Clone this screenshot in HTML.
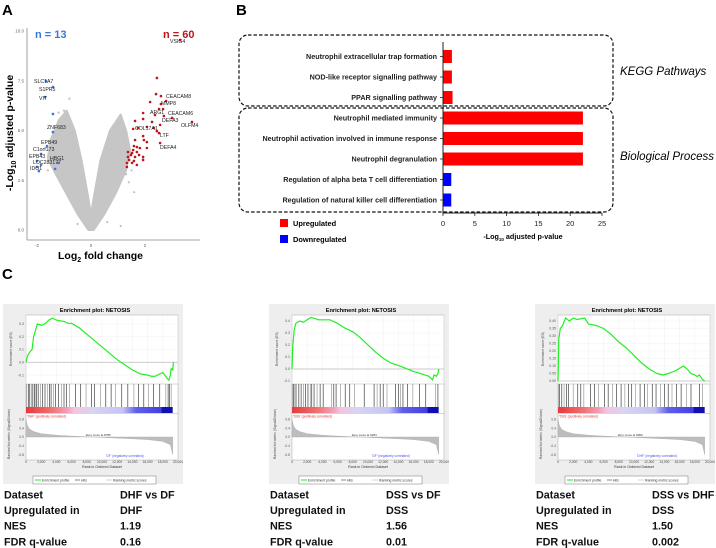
<!DOCTYPE html>
<html><head><meta charset="utf-8"><style>
body{margin:0;background:#fff;}
svg{display:block;font-family:"Liberation Sans",Arial,sans-serif;}
</style></head><body>
<svg id="fig" width="716" height="548" viewBox="0 0 716 548" xmlns="http://www.w3.org/2000/svg">
<text x="2" y="15" font-size="15" font-weight="bold">A</text>
<text x="236" y="15" font-size="15" font-weight="bold">B</text>
<text x="2" y="279" font-size="15" font-weight="bold">C</text>
<g id="volcano"></g>
<g id="barchart"></g>
<g id="gsea"></g>
</svg>
<script>
// ---------- Panel A data ----------
const upFC=[3.30,2.44,2.41,2.59,2.78,2.59,2.67,2.52,2.37,2.70,3.00,2.19,1.93,1.93,1.63,2.26,2.56,3.74,1.56,1.74,2.07,2.33,2.44,2.52,1.93,1.63,1.96,2.07,2.56,1.59,1.70,1.81,2.07,1.56,1.37,1.52,1.70,1.37,1.48,1.63,1.78,1.41,1.59,1.93,1.93,1.33,1.52,1.33,1.70];
const upP=[9.55,7.64,6.83,6.73,6.48,6.33,6.08,6.08,5.78,5.73,5.63,6.43,5.88,5.58,5.48,5.43,5.28,5.43,5.08,5.13,5.18,5.13,4.97,4.87,4.72,4.52,4.52,4.42,4.37,4.22,4.17,4.12,4.12,4.02,3.92,3.87,3.92,3.67,3.77,3.67,3.77,3.52,3.47,3.67,3.52,3.37,3.37,3.17,3.27];
const downFC=[-1.67,-1.41,-1.70,-1.41,-1.41,-1.63,-1.85,-2.0,-1.22,-1.33,-1.85,-2.0,-1.93];
const downP=[7.49,7.19,6.68,5.83,4.92,4.22,3.82,3.47,3.37,3.07,3.27,3.17,2.96];
const cloudFC=[-0.1,-0.5,-0.9,-1.3,-1.6,-1.5,-1.2,-0.9,-0.6,-0.35,-0.15,0,0.15,0.35,0.7,1.1,1.3,1.45,1.3,0.9,0.5,0.1];
const cloudP=[0,0.8,1.8,2.8,3.6,4.5,5.5,6.0,5.0,3.5,2.0,0.8,2.0,3.5,5.0,5.8,5.0,4.0,3.0,1.8,0.8,0];
const grayFC=[-0.8,-1.0,-0.9,-1.1,-0.7,1.0,1.2,1.3,1.4,1.6,-1.2,-0.5,0.6,1.1,-1.6,1.5];
const grayP=[6.6,6.0,5.8,5.0,4.9,5.3,4.5,2.8,2.4,1.9,5.9,0.3,0.4,0.2,3.0,3.0];
const xTicksA=[-2,0,2];
const yTicksA=[0,2.5,5,7.5,10];
// ---------- Panel B data ----------
const terms=["Neutrophil extracellular trap formation","NOD-like receptor signalling pathway","PPAR signalling pathway","Neutrophil mediated immunity","Neutrophil activation involved in immune response","Neutrophil degranulation","Regulation of alpha beta T cell differentiation","Regulation of natural killer cell differentiation"];
const termValues=[1.4,1.4,1.5,22,22,22,1.3,1.3];
const termDirection=["up","up","up","up","up","up","down","down"];
const xTicksB=[0,5,10,15,20,25];
// ---------- Panel C data ----------
const esRank1=[0,0.2,0.5,0.8,1,1.5,2,2.5,3,3.5,4,5,5.5,6,7,8,9,10,11,12,13,14,15,16,16.5,17,18,18.5,18.8,19,19.1,19.3,19.4];
const esVal1=[0,0.05,0.08,0.1,0.2,0.3,0.29,0.3,0.33,0.345,0.33,0.32,0.305,0.305,0.27,0.22,0.17,0.12,0.07,0.02,-0.02,-0.06,-0.09,-0.1,-0.11,-0.11,-0.08,-0.12,-0.14,-0.1,-0.05,-0.06,0.0];
const esRank2=[0,0.1,0.3,0.5,1,1.5,2,2.5,3,3.5,5,6,7,8,9,10,11,12,13,14,15,16,17,18,18.5,18.7,19,19.2,19.3];
const esVal2=[0,0.2,0.33,0.38,0.4,0.39,0.41,0.43,0.42,0.41,0.41,0.38,0.34,0.31,0.26,0.2,0.14,0.09,0.05,0.03,0.005,-0.02,-0.04,-0.06,-0.09,-0.05,-0.06,-0.04,0.0];
const esRank3=[0,0.1,0.3,0.6,1,1.5,2,2.5,3.5,4,5,6,7,8,9,10,11,12,13,13.8,14.5,15.5,16.5,17,17.5,18,18.3,18.6,19,19.3];
const esVal3=[0,0.28,0.35,0.37,0.42,0.4,0.42,0.41,0.42,0.38,0.37,0.35,0.31,0.26,0.22,0.17,0.12,0.08,0.05,0.04,0.05,0.07,0.1,0.08,0.05,0.04,0.03,0.04,0.01,0.0];
const hits1=[0.1,0.3,0.5,0.7,0.9,1.1,1.2,1.4,1.6,1.9,2.2,2.5,2.8,3.1,3.3,3.6,3.9,4.3,4.7,5.0,5.3,5.7,6.5,7.2,7.9,8.6,9.0,9.8,10.5,11.2,11.8,12.6,13.4,14.2,14.8,15.5,16.1,16.8,17.6,18.4,18.7,18.9,19.1];
const hits2=[0.05,0.2,0.4,0.6,0.9,1.2,1.5,1.8,2.1,2.4,2.6,2.9,3.3,3.7,4.1,5.2,5.5,5.8,6.4,7.0,7.6,8.2,9.5,10.8,11.2,11.6,12.0,12.5,13.6,14.0,14.3,14.6,15.2,15.9,16.8,17.6,18.9,19.2];
const hits3=[0.05,0.2,0.5,0.8,1.1,1.4,2.0,2.6,3.0,3.4,4.3,4.8,5.3,6.1,6.6,7.2,7.7,8.3,8.8,9.3,9.7,10.2,10.8,11.4,11.8,12.4,12.9,13.5,14.0,14.5,15.0,15.6,16.2,16.9,17.5,18.6,19.0];
const metricRanks=[0,0.2,0.5,1,2,4,6,8,9,10,12,14,16,18,19,19.3];
const metricVals=[0.8,0.5,0.35,0.25,0.15,0.08,0.04,0.01,0,-0.02,-0.05,-0.08,-0.12,-0.2,-0.35,-0.8];
const rankTicks=[0,2000,4000,6000,8000,10000,12000,14000,16000,18000,20000];
const esTicks1=[-0.1,0,0.1,0.2,0.3];
const esTicks2=[-0.1,0,0.1,0.2,0.3,0.4];
const esTicks3=[0,0.05,0.1,0.15,0.2,0.25,0.3,0.35,0.4];
const datasets=["DHF vs DF","DSS vs DF","DSS vs DHF"];
const upIn=["DHF","DSS","DSS"];
const nes=["1.19","1.56","1.50"];
const fdr=["0.16","0.01","0.002"];
const posLabels=["'DHF' (positively correlated)","'DSS' (positively correlated)","'DSS' (positively correlated)"];
const negLabels=["'DF' (negatively correlated)","'DF' (negatively correlated)","'DHF' (negatively correlated)"];
const zeroCross=["Zero cross at 8785","Zero cross at 9284","Zero cross at 9960"];

const NS="http://www.w3.org/2000/svg";
function mk(parent,tag,attrs,text){const e=document.createElementNS(NS,tag);for(const k in attrs)e.setAttribute(k,attrs[k]);if(text!==undefined)e.textContent=text;parent.appendChild(e);return e;}

// ---------- Panel A ----------
(function(){
const g=document.getElementById('volcano');
const X=fc=>91+27*fc, Y=p=>230-19.9*p;
let e;
e=mk(g,'line',{x1:27,y1:28,x2:27,y2:240,stroke:'#888','stroke-width':0.8});


e=mk(g,'line',{x1:27,y1:240,x2:200,y2:240,stroke:'#888','stroke-width':0.8});


xTicksA.forEach(t=>{const tt=mk(g,'text',{x:X(t),y:247,'font-size':4.5,fill:'#666','text-anchor':'middle'},String(t));

});
yTicksA.forEach(t=>{const tt=mk(g,'text',{x:24,y:Y(t)+1.5,'font-size':4.5,fill:'#666','text-anchor':'end'},t.toFixed(1));

});
const pts=cloudFC.map((f,i)=>X(f)+','+Y(cloudP[i])).join(' ');
e=mk(g,'polygon',{points:pts,fill:'#c6c6c6',stroke:'#c6c6c6','stroke-width':2,'stroke-linejoin':'round'});


grayFC.forEach((f,i)=>{const c=mk(g,'circle',{cx:X(f),cy:Y(grayP[i]),r:1.1,fill:'#c0c0c0'});

});
upFC.forEach((f,i)=>{const c=mk(g,'circle',{cx:X(f),cy:Y(upP[i]),r:1.3,fill:'#c0141c'});

});
downFC.forEach((f,i)=>{const c=mk(g,'circle',{cx:X(f),cy:Y(downP[i]),r:1.3,fill:'#3a78d8'});

});
const labels=[["VSIG4",170,43],["CEACAM8",166,98],["MMP8",161,105],["ARG1",150,114],["CEACAM6",168,115],["DEFA3",162,122],["OLFM4",181,127],["COL17A1",135,130],["LTF",160,137],["DEFA4",160,149],
["SLC1A7",34,83],["S1PR5",39,91],["VIT",39,100],["ZNF683",47,129],["EPB49",41,144],["C1orf173",33,151],["EPB43",29,158],["HBG1",50,160],["LOC283177",33,164],["IDO1",30,170]];
labels.forEach(l=>{const t=mk(g,'text',{x:l[1],y:l[2],'font-size':5.2,fill:'#222'},l[0]);

});
e=mk(g,'text',{x:35,y:38,'font-size':11,'font-weight':'bold',fill:'#3a78d8'},'n = 13');


e=mk(g,'text',{x:163,y:38,'font-size':11,'font-weight':'bold',fill:'#c0141c'},'n = 60');


e=mk(g,'text',{x:58,y:259,'font-size':10.5,'font-weight':'bold'});
e.innerHTML='Log<tspan font-size="7" dy="3">2</tspan><tspan dy="-3"> fold change</tspan>';


e=mk(g,'text',{x:0,y:0,'font-size':10.5,'font-weight':'bold','text-anchor':'middle',transform:'translate(13,133) rotate(-90)'});
e.innerHTML='-Log<tspan font-size="7" dy="3">10</tspan><tspan dy="-3"> adjusted p-value</tspan>';


})();

// ---------- Panel B ----------
(function(){
const g=document.getElementById('barchart');
const X=v=>443+v*6.36;
const rowY=i=>56.5+i*20.5;
let e;
e=mk(g,'rect',{x:239,y:35,width:374,height:71,rx:9,fill:'none',stroke:'#111','stroke-width':1.2,'stroke-dasharray':'3.5,2'});


e=mk(g,'rect',{x:239,y:108,width:374,height:104,rx:9,fill:'none',stroke:'#111','stroke-width':1.2,'stroke-dasharray':'3.5,2'});


termValues.forEach((v,i)=>{const b=mk(g,'rect',{x:X(0),y:rowY(i)-6.5,width:X(v)-X(0),height:13,fill:termDirection[i]==='up'?'#fe0000':'#0000fe'});


const t=mk(g,'text',{x:437,y:rowY(i)+2.5,'font-size':7.2,'font-weight':'bold','text-anchor':'end',fill:'#222'},terms[i]);


const tk=mk(g,'line',{x1:440,x2:443,y1:rowY(i),y2:rowY(i),stroke:'#222','stroke-width':0.8});

});
e=mk(g,'line',{x1:443,y1:42,x2:443,y2:214,stroke:'#222','stroke-width':1});


e=mk(g,'line',{x1:443,y1:213,x2:X(25),y2:213,stroke:'#222','stroke-width':1});


xTicksB.forEach(t=>{const l=mk(g,'line',{x1:X(t),x2:X(t),y1:213,y2:216,stroke:'#222','stroke-width':0.8});


const tt=mk(g,'text',{x:X(t),y:226,'font-size':7.5,'text-anchor':'middle',fill:'#222'},String(t));

});
e=mk(g,'text',{x:523,y:239,'font-size':7.2,'font-weight':'bold','text-anchor':'middle'});
e.innerHTML='-Log<tspan font-size="4.5" dy="2">10</tspan><tspan dy="-2"> adjusted p-value</tspan>';


e=mk(g,'rect',{x:280,y:219,width:8,height:8,fill:'#fe0000'});


e=mk(g,'text',{x:293,y:226,'font-size':7.4,'font-weight':'bold'},'Upregulated');


e=mk(g,'rect',{x:280,y:235,width:8,height:8,fill:'#0000fe'});


e=mk(g,'text',{x:293,y:242,'font-size':7.4,'font-weight':'bold'},'Downregulated');


e=mk(g,'text',{x:620,y:75,'font-size':11.5,'font-style':'italic'},'KEGG Pathways');


e=mk(g,'text',{x:620,y:160,'font-size':11.5,'font-style':'italic'},'Biological Process');


})();

// ---------- Panel C ----------
(function(){
const G=document.getElementById('gsea');
const esR=[esRank1,esRank2,esRank3], esV=[esVal1,esVal2,esVal3], hits=[hits1,hits2,hits3], esT=[esTicks1,esTicks2,esTicks3];
const ranges=[[-0.17,0.37],[-0.125,0.45],[-0.02,0.44]];
const x0s=[3,269,535];
for(let p=0;p<3;p++){
const x0=x0s[p], y0=304;
const g=mk(G,'g',{});


const L=x0+23, R=x0+175;
const X=r=>L+(r/20000)*(R-L);
const [lo,hi]=ranges[p];
const Y=v=>y0+11+(hi-v)/(hi-lo)*69;
let e;
e=mk(g,'rect',{x:x0,y:y0,width:180,height:180,fill:'#eeeeee'});


e=mk(g,'text',{x:x0+92,y:y0+8,'font-size':5.6,'font-weight':'bold','text-anchor':'middle'},'Enrichment plot: NETOSIS');


e=mk(g,'rect',{x:L,y:y0+11,width:R-L,height:145,fill:'#fff',stroke:'#999','stroke-width':0.4});


rankTicks.forEach(t=>{mk(g,'line',{x1:X(t),x2:X(t),y1:y0+11,y2:y0+80,stroke:'#eee','stroke-width':0.4});
const tl=mk(g,'text',{x:X(t),y:y0+159,'font-size':3.3,fill:'#444','text-anchor':'middle'},t.toLocaleString('en-US'));

});
esT[p].forEach(t=>{mk(g,'line',{x1:L,x2:R,y1:Y(t),y2:Y(t),stroke:'#eee','stroke-width':0.4});
const tl=mk(g,'text',{x:L-2,y:Y(t)+1.2,'font-size':3.5,fill:'#555','text-anchor':'end'},p===2?t.toFixed(2):t.toFixed(1));

});
e=mk(g,'line',{x1:L,x2:R,y1:Y(0),y2:Y(0),stroke:'#bbb','stroke-width':0.8});


const d=esR[p].map((r,i)=>(i?'L':'M')+X(r*1000).toFixed(1)+','+Y(esV[p][i]).toFixed(1)).join(' ');
e=mk(g,'path',{d:d,fill:'none',stroke:'#22ee22','stroke-width':1.2});


e=mk(g,'line',{x1:L,x2:R,y1:y0+80,y2:y0+80,stroke:'#999','stroke-width':0.4});
hits[p].forEach((h,i)=>{const l=mk(g,'line',{x1:X(h*1000),x2:X(h*1000),y1:y0+80,y2:y0+103,stroke:i%3===0?'#888':'#222','stroke-width':0.6});

});
const gradId='cb'+p;
const defs=mk(g,'defs',{});
const lg=mk(defs,'linearGradient',{id:gradId,x1:0,x2:1,y1:0,y2:0});
[[0,'#e8383c'],[0.17,'#f07070'],[0.28,'#f2a0b8'],[0.33,'#f4c4e0'],[0.45,'#d8d4f4'],[0.66,'#c4c4f4'],[0.75,'#6060ee'],[0.92,'#4040e0'],[0.93,'#1010b0'],[1,'#1010b0']].forEach(s=>mk(lg,'stop',{offset:s[0],'stop-color':s[1]}));
e=mk(g,'rect',{x:L,y:y0+103,width:X(19300)-L,height:6,fill:'url(#'+gradId+')'});


e=mk(g,'line',{x1:L,x2:R,y1:y0+109.5,y2:y0+109.5,stroke:'#999','stroke-width':0.4});
e=mk(g,'text',{x:L+1,y:y0+113.5,'font-size':3.2,fill:'#e03030'},posLabels[p]);


const MY=v=>y0+133-v*22;
const md='M'+X(0)+','+MY(0)+' '+metricRanks.map((r,i)=>'L'+X(r*1000).toFixed(1)+','+MY(metricVals[i]).toFixed(1)).join(' ')+' L'+X(19300)+','+MY(0)+' Z';
e=mk(g,'path',{d:md,fill:'#bdbdbd',stroke:'#aaa','stroke-width':0.4});


[-0.8,-0.4,0,0.4,0.8].forEach(t=>{const tl=mk(g,'text',{x:L-2,y:MY(t)+1.2,'font-size':3.3,fill:'#555','text-anchor':'end'},t.toFixed(1));

});
e=mk(g,'text',{x:X(9500),y:MY(0)-1,'font-size':3,fill:'#333','text-anchor':'middle'},zeroCross[p]);


e=mk(g,'text',{x:X(13000),y:y0+153,'font-size':3.2,fill:'#5050f0','text-anchor':'middle'},negLabels[p]);


e=mk(g,'text',{x:(L+R)/2,y:y0+164,'font-size':3.6,fill:'#333','text-anchor':'middle'},'Rank in Ordered Dataset');


e=mk(g,'text',{x:0,y:0,'font-size':3.4,fill:'#444','text-anchor':'middle',transform:'translate('+(x0+9)+','+(y0+45)+') rotate(-90)'},'Enrichment score (ES)');


e=mk(g,'text',{x:0,y:0,'font-size':3.4,fill:'#444','text-anchor':'middle',transform:'translate('+(x0+7)+','+(y0+130)+') rotate(-90)'},'Ranked list metric (Signal2Noise)');


e=mk(g,'rect',{x:x0+30,y:y0+172,width:123,height:8,fill:'#fff',stroke:'#777','stroke-width':0.5});


mk(g,'line',{x1:x0+32,x2:x0+38,y1:y0+176,y2:y0+176,stroke:'#22ee22','stroke-width':1});
mk(g,'text',{x:x0+39,y:y0+177.3,'font-size':3.4,fill:'#333'},'Enrichment profile');
mk(g,'line',{x1:x0+72,x2:x0+77,y1:y0+176,y2:y0+176,stroke:'#333','stroke-width':0.6});
mk(g,'text',{x:x0+78,y:y0+177.3,'font-size':3.4,fill:'#333'},'Hits');
mk(g,'line',{x1:x0+103,x2:x0+109,y1:y0+176,y2:y0+176,stroke:'#bbb','stroke-width':0.6});
mk(g,'text',{x:x0+110,y:y0+177.3,'font-size':3.4,fill:'#333'},'Ranking metric scores');
const rows=[['Dataset',datasets[p]],['Upregulated in',upIn[p]],['NES',nes[p]],['FDR q-value',fdr[p]]];
rows.forEach((r,i)=>{const yy=498.5+i*15.6;
const a=mk(g,'text',{x:x0+1,y:yy,'font-size':10.8,'font-weight':'bold',fill:'#111'},r[0]);


const b=mk(g,'text',{x:x0+117,y:yy,'font-size':10.8,'font-weight':'bold',fill:'#111'},r[1]);

});
}
})();
</script>
</body></html>
